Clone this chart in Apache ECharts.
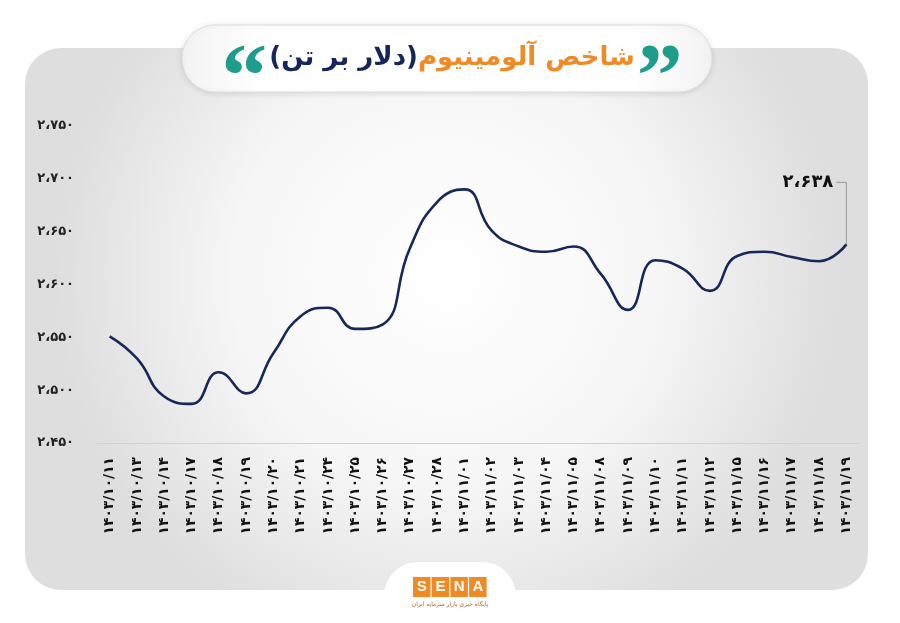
<!DOCTYPE html>
<html><head><meta charset="utf-8">
<script src="https://cdn.jsdelivr.net/npm/echarts@6/dist/echarts.min.js"></script>
<style>html,body{margin:0;padding:0;background:#fff}#c{width:900px;height:623px}</style>
</head><body><div id="c"></div>
<script>
const categories = ['۱۴۰۳/۱۰/۱۱','۱۴۰۳/۱۰/۱۳','۱۴۰۳/۱۰/۱۴','۱۴۰۳/۱۰/۱۷','۱۴۰۳/۱۰/۱۸','۱۴۰۳/۱۰/۱۹','۱۴۰۳/۱۰/۲۰','۱۴۰۳/۱۰/۲۱','۱۴۰۳/۱۰/۲۴','۱۴۰۳/۱۰/۲۵','۱۴۰۳/۱۰/۲۶','۱۴۰۳/۱۰/۲۷','۱۴۰۳/۱۰/۲۸','۱۴۰۳/۱۱/۰۱','۱۴۰۳/۱۱/۰۲','۱۴۰۳/۱۱/۰۳','۱۴۰۳/۱۱/۰۴','۱۴۰۳/۱۱/۰۵','۱۴۰۳/۱۱/۰۸','۱۴۰۳/۱۱/۰۹','۱۴۰۳/۱۱/۱۰','۱۴۰۳/۱۱/۱۱','۱۴۰۳/۱۱/۱۲','۱۴۰۳/۱۱/۱۵','۱۴۰۳/۱۱/۱۶','۱۴۰۳/۱۱/۱۷','۱۴۰۳/۱۱/۱۸','۱۴۰۳/۱۱/۱۹'];
const prices = [2551,2530,2494,2487,2517,2497,2535,2570,2578,2558,2562,2634,2678,2690,2651,2636,2631,2636,2610,2576,2623,2615,2594,2627,2631,2626,2622,2638];
const yTickValues = [2450,2500,2550,2600,2650,2700,2750];
const yTickLabels = ['۲،۴۵۰','۲،۵۰۰','۲،۵۵۰','۲،۶۰۰','۲،۶۵۰','۲،۷۰۰','۲،۷۵۰'];
const lastValueLabel = '۲،۶۳۸';
const titleMain = 'شاخص آلومینیوم';
const titleUnit = '(دلار بر تن)';
const quoteOpen = '\u201C';
const quoteClose = '\u201D';
const logoLetters = ['S','E','N','A'];
const logoSub = 'پایگاه خبری بازار سرمایه ایران';

const FONT = '"DejaVu Sans", sans-serif';
const QFONT = '"Liberation Serif", "DejaVu Serif", serif';
const TITLE_SIZE = 26;
const chart = echarts.init(document.getElementById('c'), null, {renderer:'canvas'});

const mctx = document.createElement('canvas').getContext('2d');
mctx.font = 'bold ' + TITLE_SIZE + 'px "DejaVu Sans"';
const titleW = mctx.measureText(titleUnit).width + mctx.measureText(titleMain).width;
const TX = 452, TY = 58;

const graphics = [
  {id:'panel', type:'rect', z:-10, shape:{x:25,y:48,width:843,height:542,r:36},
   style:{fill:{type:'radial',x:0.5,y:0.42,r:0.72,colorStops:[{offset:0,color:'#ffffff'},{offset:0.55,color:'#f6f6f6'},{offset:1,color:'#dedede'}]}}},
  {id:'titlePill', type:'rect', z:10, shape:{x:182,y:25,width:530,height:67,r:33},
   style:{fill:{type:'linear',x:0,y:0,x2:1,y2:0,colorStops:[{offset:0,color:'#f3f3f3'},{offset:0.15,color:'#ffffff'},{offset:0.85,color:'#ffffff'},{offset:1,color:'#f3f3f3'}]},stroke:'#dedede',lineWidth:1,shadowBlur:6,shadowColor:'rgba(0,0,0,0.12)',shadowOffsetY:1}},
  {id:'title', type:'text', z:11, x:TX, y:TY,
   style:{text:'{n|'+titleUnit+'}{o|'+titleMain+'}', align:'center', verticalAlign:'middle',
     rich:{
       n:{fill:'#16265a',fontSize:TITLE_SIZE,fontFamily:FONT,fontWeight:'bold'},
       o:{fill:'#f08a24',fontSize:TITLE_SIZE,fontFamily:FONT,fontWeight:'bold'}
     }}},
  {id:'qL', type:'text', z:11, x:TX - titleW/2 - 2, y:TY + 24,
   style:{text:quoteOpen, fill:'#1e9c8c', fontSize:92, fontFamily:QFONT, fontWeight:'bold', align:'right', verticalAlign:'middle'}},
  {id:'qR', type:'text', z:11, x:TX + titleW/2 + 2, y:TY + 24,
   style:{text:quoteClose, fill:'#1e9c8c', fontSize:92, fontFamily:QFONT, fontWeight:'bold', align:'left', verticalAlign:'middle'}},
  {id:'logoPill', type:'rect', z:5, shape:{x:384,y:562,width:132,height:90,r:34},
   style:{fill:'#ffffff'}},
];
logoLetters.forEach((l,i)=>{
  graphics.push({id:'lb'+i, type:'rect', z:6, shape:{x:413+i*18.7,y:577,width:17.5,height:20}, style:{fill:'#f08a24'}});
  graphics.push({id:'lt'+i, type:'text', z:7, x:413+i*18.7+8.75, y:587,
    style:{text:l, fill:'#ffffff', fontSize:15, fontWeight:'bold', fontFamily:'"Liberation Sans", sans-serif', align:'center', verticalAlign:'middle'}});
});
graphics.push({id:'logoSub', type:'text', z:7, x:450, y:604,
  style:{text:logoSub, fill:'#b5652a', fontSize:6, fontFamily:FONT, align:'center', verticalAlign:'middle'}});

chart.setOption({
  animation:false,
  backgroundColor:'#ffffff',
  grid:{left:96, right:40, top:126, bottom:180, containLabel:false},
  xAxis:{type:'category', data:categories, boundaryGap:true,
    axisLine:{show:true, lineStyle:{color:'#d2d2d2', width:1}},
    axisTick:{show:false},
    axisLabel:{rotate:90, interval:0, margin:14, color:'#111', fontSize:13.8, fontWeight:'bold', fontFamily:FONT}},
  yAxis:{type:'value', min:2450, max:2750, interval:50,
    axisLine:{show:false}, axisTick:{show:false}, splitLine:{show:false},
    axisLabel:{margin:22, color:'#222', fontSize:13, fontWeight:'bold', fontFamily:FONT,
      formatter:function(v){const i=yTickValues.indexOf(v);return i>=0?yTickLabels[i]:'';}}},
  series:[{type:'line', data:prices, smooth:0.5, symbol:'none',
    lineStyle:{color:'#14285a', width:2.6}}],
  graphic:{elements:graphics}
});

const lastIdx = prices.length-1;
const p = chart.convertToPixel({seriesIndex:0}, [lastIdx, prices[lastIdx]]);
chart.setOption({graphic:{elements:[
  {id:'annLine', type:'polyline', z:8, shape:{points:[[p[0]-10,p[1]-62],[p[0],p[1]-62],[p[0],p[1]]]},
   style:{stroke:'#9a9a9a', lineWidth:1, fill:null}},
  {id:'annText', type:'text', z:8, x:p[0]-13, y:p[1]-62,
   style:{text:lastValueLabel, fill:'#111', fontSize:18, fontWeight:'bold', fontFamily:FONT, align:'right', verticalAlign:'middle'}}
]}});
</script></body></html>
